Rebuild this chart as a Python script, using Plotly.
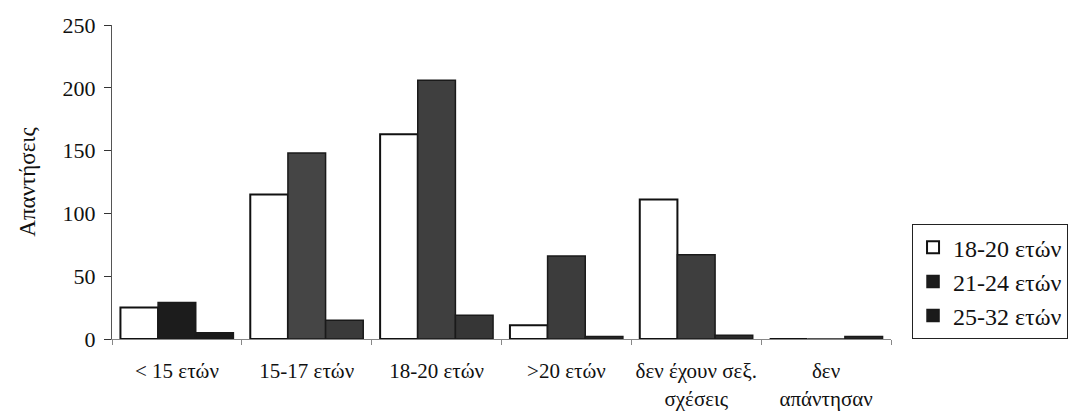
import plotly.graph_objects as go

# Age at first sexual experience, answers grouped by current age of respondent
categories = [
    "&lt; 15 ετών",
    "15-17 ετών",
    "18-20 ετών",
    "&gt;20 ετών",
    "δεν έχουν σεξ.<br>σχέσεις",
    "δεν<br>απάντησαν",
]
series_names = ["18-20 ετών", "21-24 ετών", "25-32 ετών"]
age_18_20 = [25, 115, 163, 11, 111, 0]
age_21_24 = [29, 148, 206, 66, 67, 0]
age_25_32 = [5, 15, 19, 2, 3, 2]

y_ticks = [0, 50, 100, 150, 200, 250]

serif = "Liberation Serif, Times New Roman, serif"

fig = go.Figure()
fig.add_trace(go.Bar(
    x=categories, y=age_18_20, name=series_names[0], legendgroup="a",
    marker=dict(color="white", line=dict(color="#111111", width=2)),
))
fig.add_trace(go.Bar(
    x=categories, y=age_21_24, name=series_names[1], legendgroup="b",
    marker=dict(color=["#1c1c1c", "#454545", "#3f3f3f", "#3c3c3c", "#3e3e3e", "#3e3e3e"],
                line=dict(color="#1a1a1a", width=1.5)),
))
fig.add_trace(go.Bar(
    x=categories, y=age_25_32, name=series_names[2], legendgroup="c",
    marker=dict(color=["#1a1a1a", "#3a3a3a", "#363636", "#2a2a2a", "#2a2a2a", "#2a2a2a"],
                line=dict(color="#1a1a1a", width=1.5)),
))

fig.update_layout(
    width=1068,
    height=415,
    margin=dict(l=112, r=177, t=25, b=76, autoexpand=False),
    paper_bgcolor="white",
    plot_bgcolor="white",
    barmode="group",
    bargap=0.13,
    bargroupgap=0,
    font=dict(family=serif, size=20, color="#111111"),
    showlegend=True,
    legend=dict(
        x=1.027, y=0.366, xanchor="left", yanchor="top",
        bgcolor="white", bordercolor="#222222", borderwidth=1,
        font=dict(family=serif, size=24, color="#111111"),
        tracegroupgap=8,
        traceorder="normal",
    ),
    xaxis=dict(
        type="category",
        automargin=False,
        showline=True, linecolor="#888888", linewidth=1,
        ticks="outside", tickson="boundaries", ticklen=5, tickcolor="#888888",
        showgrid=False, zeroline=False,
        tickfont=dict(family=serif, size=21, color="#111111"),
        ticklabelstandoff=13,
        tickangle=0,
    ),
    yaxis=dict(
        range=[0, 250],
        tickvals=y_ticks,
        automargin=False,
        showline=True, linecolor="#555555", linewidth=1,
        ticks="outside", ticklen=7, tickcolor="#333333",
        showgrid=False, zeroline=False,
        tickfont=dict(family=serif, size=22, color="#111111"),
        ticklabelstandoff=4,
        title=dict(text="Απαντήσεις", font=dict(family=serif, size=23, color="#111111"), standoff=20),
    ),
)

fig.write_html("out.html")
